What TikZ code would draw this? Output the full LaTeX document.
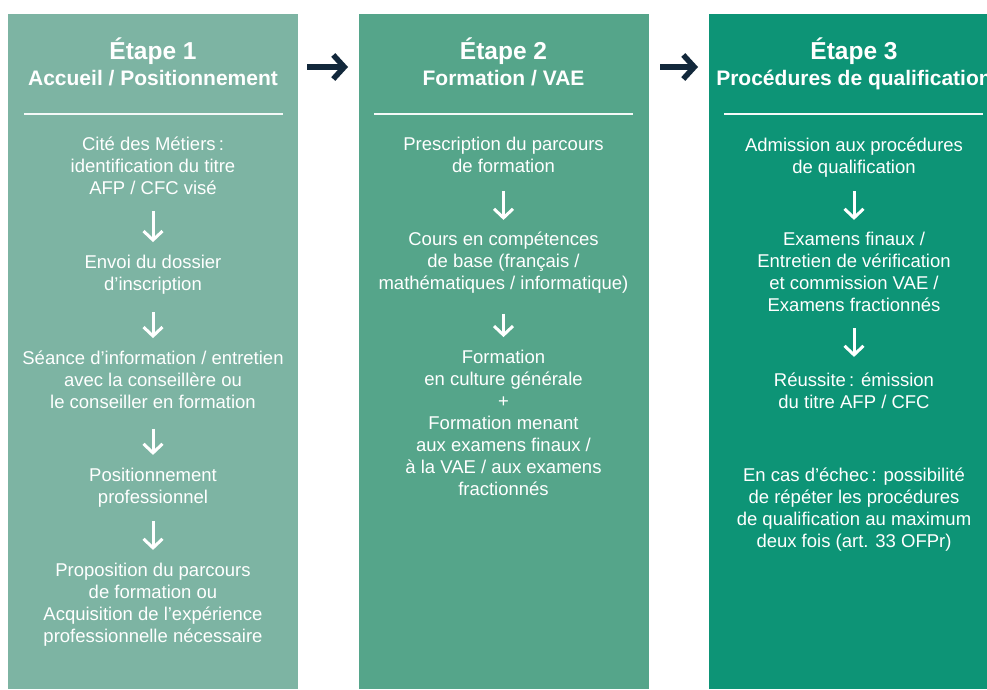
\documentclass[tikz,border=0pt]{standalone}
\usepackage{fontspec}
\setmainfont{Liberation Sans}
\usetikzlibrary{arrows.meta}
\definecolor{cA}{HTML}{7DB4A3}
\definecolor{cB}{HTML}{55A58A}
\definecolor{cC}{HTML}{0D9476}
\definecolor{navy}{HTML}{12283B}
\begin{document}
\begin{tikzpicture}[x=1pt,y=-1pt,
  panel/.style={rectangle, inner sep=0pt, minimum width=290pt, minimum height=675pt, anchor=north west},
  body/.style={align=center, inner sep=0pt, text=white, font=\fontsize{18.5}{22}\selectfont, anchor=north, execute at begin node=\strut, execute at end node=\strut},
  etape/.style={inner sep=0pt, text=white, font=\fontsize{24.5}{28}\selectfont\bfseries, anchor=base},
  stitle/.style={inner sep=0pt, text=white, font=\fontsize{21}{24}\selectfont\bfseries, anchor=base},
  darr/.style={draw=white, line width=3pt, -{Straight Barb[length=9pt,width=19pt]}},
  harr/.style={draw=navy, line width=5.5pt, -{Straight Barb[length=11pt,width=24pt]}},
  divider/.style={draw=white!92!cA, line width=2pt}]
\useasboundingbox (0,0) rectangle (987,689);
\fill[white] (0,0) rectangle (987,689);
% panels
\node[panel, fill=cA] (p1) at (8,14) {};
\node[panel, fill=cB] (p2) at (359,14) {};
\node[panel, fill=cC] (p3) at (709,14) {};
\coordinate (hy) at (0,67);
\draw[harr, shorten <=9pt, shorten >=11pt] (p1.east |- hy) -- (p2.west |- hy);
\draw[harr, shorten <=11pt, shorten >=11pt] (p2.east |- hy) -- (p3.west |- hy);
% titles
\node[etape] (e1) at (153,59.3) {Étape 1};
\node[stitle] (s1) at (153,85) {Accueil / Positionnement};
\node[etape] (e2) at (503.5,59.3) {Étape 2};
\node[stitle] (s2) at (503.5,85) {Formation / VAE};
\node[etape] (e3) at (854,59.3) {Étape 3};
\node[stitle] (s3) at (854,85) {Procédures de qualification};
% dividers
\draw[divider] (24,114) -- (283,114);
\draw[divider] (374,114) -- (633,114);
\draw[divider] (724,114) -- (983,114);
% column 1
\node[body] (a1) at (153,137.1) {Cité des Métiers\,:\\identification du titre\\AFP / CFC visé};
\node[body] (a2) at (153,254.6) {Envoi du dossier\\d’inscription};
\node[body] (a3) at (153,351.1) {Séance d’information / entretien\\avec la conseillère ou\\le conseiller en formation};
\node[body] (a4) at (153,467.9) {Positionnement\\professionnel};
\node[body] (a5) at (153,562.9) {Proposition du parcours\\de formation ou\\Acquisition de l’expérience\\professionnelle nécessaire};
\draw[darr, shorten <=9.5pt, shorten >=12.5pt] (a1) -- (a2);
\draw[darr, shorten <=15pt, shorten >=13pt] (a2) -- (a3);
\draw[darr, shorten <=13pt, shorten >=13pt] (a3) -- (a4);
\draw[darr, shorten <=11pt, shorten >=13pt] (a4) -- (a5);
% column 2
\node[body] (b1) at (503.5,137.3) {Prescription du parcours\\de formation};
\node[body] (b2) at (503.5,231.9) {Cours en compétences\\de base (français /\\mathématiques / informatique)};
\node[body] (b3) at (503.5,349.6) {Formation\\en culture générale\\+\\Formation menant\\aux examens finaux /\\à la VAE / aux examens\\fractionnés};
\draw[darr, shorten <=11.5pt, shorten >=12pt] (b1) -- (b2);
\draw[darr, shorten <=17pt, shorten >=12.5pt] (b2) -- (b3);
% column 3
\node[body] (c1) at (854,137.3) {Admission aux procédures\\de qualification};
\node[body] (c2) at (854,231.9) {Examens finaux /\\Entretien de vérification\\et commission VAE /\\Examens fractionnés};
\node[body] (c3) at (854,372.9) {Réussite\,: émission\\du titre AFP / CFC};
\node[body] (c4) at (854,467.9) {En cas d’échec\,: possibilité\\de répéter les procédures\\de qualification au maximum\\deux fois (art. 33 OFPr)};
\draw[darr, shorten <=11.5pt, shorten >=12pt] (c1) -- (c2);
\draw[darr, shorten <=10pt, shorten >=16pt] (c2) -- (c3);
\end{tikzpicture}
\end{document}
